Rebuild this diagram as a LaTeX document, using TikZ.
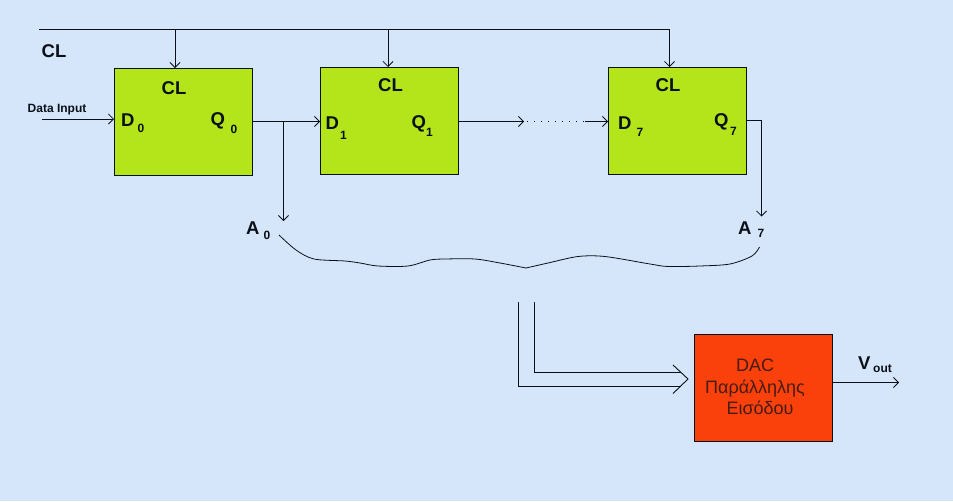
\documentclass[tikz,border=0pt]{standalone}
\usepackage{fontspec}
\setmainfont{Liberation Sans}
\usetikzlibrary{arrows.meta}
\definecolor{bgblue}{HTML}{D5E6FB}
\definecolor{regreen}{HTML}{B3E51A}
\definecolor{dacred}{HTML}{FB410B}
\definecolor{ink}{HTML}{0A1018}
\tikzset{
  x=1pt,y=-1pt,
  reg/.style={draw=ink,line width=1pt,fill=regreen,minimum width=138pt,minimum height=106.5pt,inner sep=0pt},
  dac/.style={draw=ink,line width=1pt,fill=dacred,minimum width=138pt,minimum height=107.5pt,inner sep=0pt},
  wire/.style={draw=ink,line width=1pt},
  arr/.style={wire,-{Straight Barb[length=5pt,width=10pt,line width=.8pt]}},
  lab/.style={font=\fontsize{18.5}{20}\selectfont\bfseries,text=ink,inner sep=0pt,anchor=base west},
  sub/.style={font=\fontsize{12}{14}\selectfont\bfseries,text=ink,inner sep=0pt,anchor=base west},
  small/.style={font=\fontsize{12}{14}\selectfont\bfseries,text=ink,inner sep=0pt,anchor=base west},
  dactext/.style={font=\fontsize{18}{21.5}\selectfont,text=ink!75!dacred,align=center,inner sep=0pt},
}
\begin{document}
\begin{tikzpicture}
\useasboundingbox[fill=bgblue] (0,0) rectangle (953,501);
\node[reg] (r0) at (183.5,121.75) {};
\node[reg] (r1) at (389.5,120.75) {};
\node[reg] (r7) at (677.5,120.75) {};
\node[dac] (d) at (763.5,387.75) {};
% clock
\coordinate (cs) at (39,29.5);
\coordinate (c7) at (669.5,29.5);
\draw[wire] (cs) -- (c7);
\coordinate (c0) at (175,29.5);
\coordinate (c1) at (388,29.5);
\draw[arr] (c0) -- (c0 |- r0.north);
\draw[arr] (c1) -- (c1 |- r1.north);
\draw[arr] (c7) -- (c7 |- r7.north);
% data
\coordinate (di) at (42,119);
\draw[arr] (di) -- (di -| r0.west);
\coordinate (q0) at (r0.east |- 0,121.5);
\coordinate (d1) at (r1.west |- 0,121.5);
\draw[arr] (q0) -- (d1);
\coordinate (br) at (283.5,121.5);
\coordinate (a0) at (283.5,221);
\draw[arr] (br) -- (a0);
\coordinate (q1) at (r1.east |- 0,121.5);
\coordinate (m1) at (524,121.5);
\draw[arr] (q1) -- (m1);
\coordinate (m2) at (585,121.5);
\draw[ink,line width=.8pt,dash pattern=on 1pt off 6pt] (m1) ++(3,0) -- (m2);
\coordinate (d7) at (r7.west |- 0,121.5);
\draw[arr] (m2) -- (d7);
\coordinate (q7) at (r7.east |- 0,120.5);
\coordinate (k7) at (761.5,120.5);
\coordinate (a7) at (761.5,216.5);
\draw[arr] (q7) -- (k7) -- (a7);
% brace
\draw[ink,line width=.8pt] plot[smooth,tension=.5] coordinates {(279,235) (296,250) (314,259) (345,261) (360,263) (378,266) (408,266) (430,260) (445,259) (475,259) (500,263) (526,268)};
\draw[ink,line width=.8pt] plot[smooth,tension=.5] coordinates {(526,268) (548,263) (578,256.5) (605,256.5) (650,264) (668,266.5) (700,266) (730,264) (752,256) (759.5,247)};
% bus
\coordinate (b1) at (518.5,302);
\coordinate (b2) at (534.5,302);
\coordinate (b1e) at (681,386.5);
\coordinate (b2e) at (681,372.5);
\draw[wire] (b1) |- (b1e);
\draw[wire] (b2) |- (b2e);
\draw[ink,line width=.9pt] (673,365) -- (688,379) -- (673,393.5);
% out
\coordinate (vo) at (899,382.5);
\draw[arr] (d.east |- vo) -- (vo);
% labels
\node[lab] (tcl) at (41.5,57) {CL};
\node[small] (tdi) at (27.5,112) {Data Input};
\node[lab] (c0l) at (161.5,94) {CL};
\node[lab] (c1l) at (378,91.5) {CL};
\node[lab] (c7l) at (655.5,91) {CL};
\node[lab] (t1) at (121,126) {D};
\node[sub] (t2) at (137.5,132) {0};
\node[lab] (t3) at (210.5,125) {Q};
\node[sub] (t4) at (230.5,133) {0};
\node[lab] (t5) at (325.5,129) {D};
\node[sub] (t6) at (340,139) {1};
\node[lab] (t7) at (411.5,128) {Q};
\node[sub] (t8) at (426,136) {1};
\node[lab] (t9) at (618,129) {D};
\node[sub] (t10) at (636.5,136) {7};
\node[lab] (t11) at (714,126) {Q};
\node[sub] (t12) at (730,135) {7};
\node[lab] (t13) at (246,234) {A};
\node[sub] (t14) at (263.5,239) {0};
\node[lab] (t15) at (738,234) {A};
\node[sub] (t16) at (757.5,237) {7};
\node[lab] (t17) at (858,369) {V};
\node[sub] (t18) at (873,372) {out};
\node[dactext] (t19) at (755,387) {DAC\\Παράλληλης\\\hspace*{10pt}Εισόδου};
\end{tikzpicture}
\end{document}
